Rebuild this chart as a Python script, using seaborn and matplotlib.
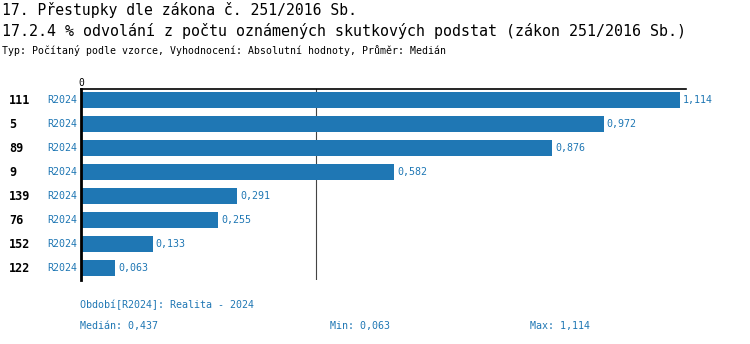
import matplotlib
matplotlib.use("Agg")
import matplotlib.pyplot as plt
import seaborn as sns
import pandas as pd

row_ids = ["111", "5", "89", "9", "139", "76", "152", "122"]
period = ["R2024"] * 8
values = [1.114, 0.972, 0.876, 0.582, 0.291, 0.255, 0.133, 0.063]
median_val = 0.437
min_val = 0.063
max_val = 1.114

title1 = "17. Přestupky dle zákona č. 251/2016 Sb."
title2 = "17.2.4 % odvolání z počtu oznámených skutkových podstat (zákon 251/2016 Sb.)"
subtitle = "Typ: Počítaný podle vzorce, Vyhodnocení: Absolutní hodnoty, Průměr: Medián"
legend_text = "Období[R2024]: Realita - 2024"

BLUE = "#1f77b4"
MONO = "DejaVu Sans Mono"

def fmt(v):
    return f"{v:.3f}".replace(".", ",")

df = pd.DataFrame({"id": row_ids, "value": values})

sns.set_style("white")
plt.rcParams["font.family"] = [MONO, "DejaVu Sans"]

W, H = 750, 344
fig = plt.figure(figsize=(W / 100, H / 100), dpi=100)
ax = fig.add_axes([81 / W, 1 - 280 / H, (686 - 81) / W, (280 - 89) / H])

sns.barplot(data=df, x="value", y="id", order=row_ids, color=BLUE,
            width=0.67, ax=ax, orient="h", saturation=1, linewidth=0)

ax.set_xlim(0, (686 - 81) / 537.7)
ax.set_ylim(7.5, -0.46)
ax.set_xlabel("")
ax.set_ylabel("")
ax.set_yticks([])
ax.set_xticks([])
for s in ["right", "bottom"]:
    ax.spines[s].set_visible(False)
ax.spines["left"].set_linewidth(2)
ax.spines["left"].set_color("black")
ax.spines["top"].set_linewidth(1.2)
ax.spines["top"].set_color("black")

ax.axvline(median_val, color="#444444", linewidth=0.8, zorder=0)

ax.text(0, -0.5, "0", transform=ax.transData, ha="center", va="bottom",
        fontsize=7, color="black", fontfamily=MONO)

for i, (rid, per, v) in enumerate(zip(row_ids, period, values)):
    ax.annotate(rid, xy=(0, i), xycoords=("axes fraction", "data"),
                xytext=(-72, 0), textcoords="offset pixels",
                ha="left", va="center", fontsize=8.5, fontweight="bold",
                color="black", fontfamily=MONO)
    ax.annotate(per, xy=(0, i), xycoords=("axes fraction", "data"),
                xytext=(-4, 0), textcoords="offset pixels",
                ha="right", va="center", fontsize=7.2, color=BLUE, fontfamily=MONO)
    ax.annotate(fmt(v), xy=(v, i), xycoords="data",
                xytext=(3, 0), textcoords="offset pixels",
                ha="left", va="center", fontsize=7.2, color=BLUE, fontfamily=MONO)

fig.text(2 / W, 1 - 10 / H, title1, ha="left", va="center", fontsize=10.6,
         color="black", fontfamily=MONO)
fig.text(2 / W, 1 - 31 / H, title2, ha="left", va="center", fontsize=10.8,
         color="black", fontfamily=MONO)
fig.text(2 / W, 1 - 50 / H, subtitle, ha="left", va="center", fontsize=7.1,
         color="black", fontfamily=MONO)

fig.text(80 / W, 1 - 305 / H, legend_text, ha="left", va="center",
         fontsize=7.2, color=BLUE, fontfamily=MONO)
fig.text(80 / W, 1 - 326 / H, "Medián: " + fmt(median_val), ha="left", va="center",
         fontsize=7.2, color=BLUE, fontfamily=MONO)
fig.text(330 / W, 1 - 326 / H, "Min: " + fmt(min_val), ha="left", va="center",
         fontsize=7.2, color=BLUE, fontfamily=MONO)
fig.text(530 / W, 1 - 326 / H, "Max: " + fmt(max_val), ha="left", va="center",
         fontsize=7.2, color=BLUE, fontfamily=MONO)

fig.savefig("out.png", dpi=100)
